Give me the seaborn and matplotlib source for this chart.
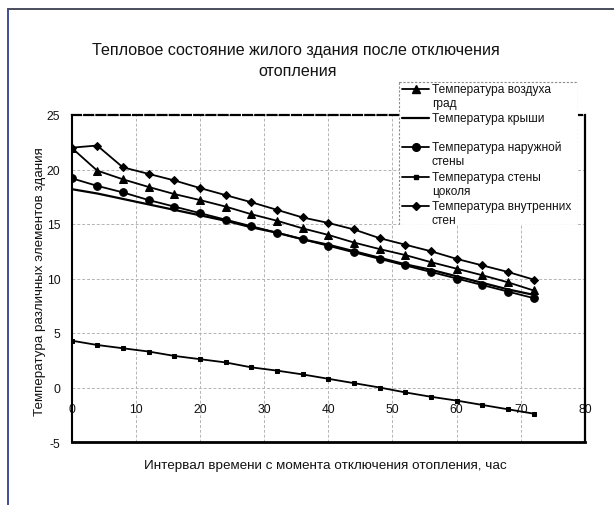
import matplotlib
matplotlib.use("Agg")
import matplotlib.pyplot as plt
from matplotlib.lines import Line2D
from matplotlib.patches import Rectangle
import seaborn as sns
import pandas as pd

# Hours since the heating was switched off
hours = list(range(0, 73, 4))

# Temperatures of the building elements, °C
t_air = [22.0, 19.9, 19.1, 18.4, 17.75, 17.2, 16.6, 15.9, 15.3, 14.6,
         14.0, 13.3, 12.7, 12.15, 11.5, 10.9, 10.3, 9.65, 8.9]
t_roof = [18.2, 17.8, 17.3, 16.8, 16.3, 15.8, 15.3, 14.7, 14.2, 13.6,
          13.1, 12.5, 11.9, 11.3, 10.8, 10.2, 9.6, 9.0, 8.5]
t_outer_wall = [19.2, 18.5, 17.9, 17.2, 16.6, 16.0, 15.4, 14.8, 14.2, 13.6,
                13.0, 12.4, 11.8, 11.2, 10.6, 10.0, 9.4, 8.8, 8.2]
t_plinth = [4.3, 3.9, 3.6, 3.3, 2.9, 2.6, 2.3, 1.85, 1.55, 1.2,
            0.8, 0.4, 0.0, -0.45, -0.85, -1.2, -1.6, -2.0, -2.4]
t_inner_walls = [22.0, 22.2, 20.2, 19.6, 19.0, 18.3, 17.65, 17.0, 16.3, 15.6,
                 15.1, 14.5, 13.7, 13.1, 12.5, 11.8, 11.2, 10.6, 9.9]

series_labels = [
    ["Температура воздуха", "град"],
    ["Температура крыши", ""],
    ["Температура наружной", "стены"],
    ["Температура стены", "цоколя"],
    ["Температура внутренних", "стен"],
]
series_values = [t_air, t_roof, t_outer_wall, t_plinth, t_inner_walls]
markers = ["^", None, "o", "s", "D"]
marker_sizes = [5.5, 0, 5.5, 2.5, 4.5]
line_widths = [1.3, 1.6, 1.3, 1.3, 1.3]

x_ticks = [0, 10, 20, 30, 40, 50, 60, 70, 80]
y_ticks = [-5, 0, 5, 10, 15, 20, 25]

title_lines = ["Тепловое состояние жилого здания после отключения", "отопления"]
x_title = "Интервал времени с момента отключения отопления, час"
y_title = "Температура различных элементов здания"

sns.set_theme(style="white")
plt.rcParams["font.family"] = ["Liberation Sans", "DejaVu Sans"]
text_color = "#121212"

W, H = 614, 506
fig = plt.figure(figsize=(W / 100, H / 100), dpi=100)
fig.patch.set_facecolor("white")


def fx(px):
    return px / W


def fy(py):
    return 1 - py / H


left, right, top, bottom = 71.5, 585, 116, 443
ax = fig.add_axes([fx(left), fy(bottom), fx(right - left), (bottom - top) / H])
ax.set_facecolor("white")

for vals, mk, ms, lw in zip(series_values, markers, marker_sizes, line_widths):
    df = pd.DataFrame({"hours": hours, "temp": vals})
    kw = dict(marker=mk, markersize=ms, markeredgecolor="black",
              markerfacecolor="black") if mk else {}
    sns.lineplot(data=df, x="hours", y="temp", ax=ax, color="black",
                 linewidth=lw, legend=False, zorder=3, **kw)

ax.set_xlim(0, 80)
ax.set_ylim(-5, 25)
ax.set_xticks(x_ticks)
ax.set_yticks(y_ticks)
ax.set_xticklabels([str(v) for v in x_ticks])
ax.set_yticklabels([str(v) for v in y_ticks])
ax.set_xlabel("")
ax.set_ylabel("")
ax.grid(True, color="#b4b4b4", linestyle=(0, (3, 2)), linewidth=0.7)
ax.set_axisbelow(True)

ax.tick_params(axis="y", length=0, pad=8, labelsize=8.7, labelcolor=text_color)
# category labels sit just under the zero line, inside the plot area
ax.tick_params(axis="x", length=0, pad=-28, labelsize=8.7, labelcolor=text_color)

for side in ["left", "right", "bottom"]:
    ax.spines[side].set_color("black")
ax.spines["left"].set_linewidth(1.5)
ax.spines["right"].set_linewidth(1.6)
ax.spines["bottom"].set_linewidth(2.0)
ax.spines["top"].set_color("black")
ax.spines["top"].set_linewidth(1.6)
ax.spines["top"].set_linestyle((0, (4, 1.5)))

# Titles
fig.text(fx(296), fy(50), title_lines[0], ha="center", va="center",
         fontsize=11.6, color=text_color)
fig.text(fx(298), fy(72), title_lines[1], ha="center", va="center",
         fontsize=11.6, color=text_color)
fig.text(fx(325), fy(466), x_title, ha="center", va="center", fontsize=9.7,
         color=text_color)
fig.text(fx(40), fy(281.5), y_title, ha="center", va="center", fontsize=9.6,
         rotation=90, color=text_color)

# Legend box drawn on its own pixel-unit axes
lx0, ly0, lx1, ly1 = 398, 82, 578, 226
lax = fig.add_axes([fx(lx0), fy(ly1), fx(lx1 - lx0), (ly1 - ly0) / H])
lax.set_xlim(0, lx1 - lx0)
lax.set_ylim(ly1 - ly0, 0)
lax.axis("off")
lax.add_patch(Rectangle((0.5, 0.5), lx1 - lx0 - 1, ly1 - ly0 - 1,
                        facecolor="white", edgecolor="#8a8a8a",
                        linewidth=0.8, linestyle=(0, (2, 1.5))))
row_y = [8, 37, 66, 96, 125]
for (l1, l2), mk, ms, lw, yy in zip(series_labels, markers, marker_sizes,
                                   line_widths, row_y):
    lax.add_line(Line2D([4, 31], [yy, yy], color="black", linewidth=lw))
    if mk:
        lax.add_line(Line2D([17.5], [yy], marker=mk, markersize=ms,
                            color="black", linestyle="none"))
    lax.text(34, yy, l1, ha="left", va="center", fontsize=8.6, color=text_color)
    if l2:
        lax.text(34, yy + 14, l2, ha="left", va="center", fontsize=8.6,
                 color=text_color)

# Outer chart frame
fig.add_artist(Line2D([fx(8), fx(8)], [0, fy(10)], transform=fig.transFigure,
                      color="#3f4c9a", linewidth=1.4))
fig.add_artist(Line2D([fx(8), 1], [fy(10), fy(10)], transform=fig.transFigure,
                      color="#4a4d5c", linewidth=1.4))

fig.savefig("out.png", dpi=100, facecolor="white")
